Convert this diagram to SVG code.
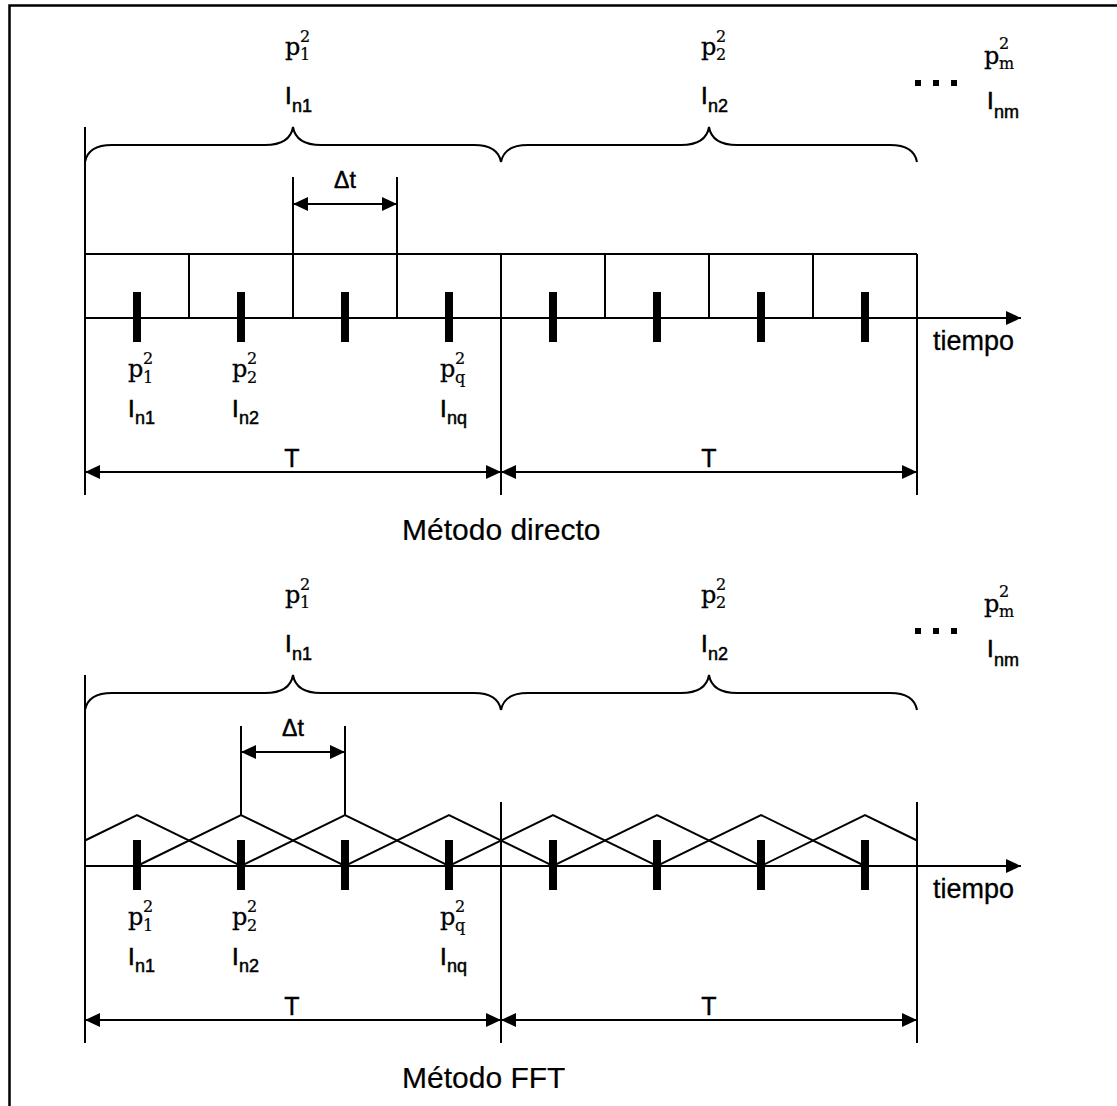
<svg xmlns="http://www.w3.org/2000/svg" width="1117" height="1106" viewBox="0 0 1117 1106">
<defs>
<marker id="ah" markerUnits="userSpaceOnUse" markerWidth="15" markerHeight="14" refX="15" refY="7" orient="auto-start-reverse" viewBox="0 0 15 14"><path d="M0,0 L15,7 L0,14 z" fill="#000"/></marker>
</defs>
<style>
.ln{stroke:#000;stroke-width:2;fill:none}
.ar{stroke:#000;stroke-width:2;fill:none;marker-start:url(#ah);marker-end:url(#ah)}
.ax{stroke:#000;stroke-width:2;fill:none;marker-end:url(#ah)}
.tk{fill:#000}
.ps{font-family:"DejaVu Serif","Liberation Serif",serif;font-size:24px;stroke:#000;stroke-width:0.3}
.ss{font-family:"DejaVu Serif","Liberation Serif",serif;font-size:16px;stroke:#000;stroke-width:0.2}
.iv{font-family:"Liberation Sans",Arial,sans-serif;font-size:24px;stroke:#000;stroke-width:0.6}
.is{font-family:"Liberation Sans",Arial,sans-serif;font-size:18px;stroke:#000;stroke-width:0.5}
.dt{font-family:"Liberation Sans",Arial,sans-serif;font-size:23px;text-anchor:middle;stroke:#000;stroke-width:0.5}
.tt{font-family:"Liberation Sans",Arial,sans-serif;font-size:25px;text-anchor:middle;stroke:#000;stroke-width:0.4}
.tl{font-family:"Liberation Sans",Arial,sans-serif;font-size:27px;stroke:#000;stroke-width:0.3}
.ti{font-family:"Liberation Sans",Arial,sans-serif;font-size:30px;stroke:#000;stroke-width:0.2}
</style>
<rect x="0" y="0" width="1117" height="1106" fill="#fff"/>
<g id="frame"><path class="ln" style="stroke-width:2.5" d="M9.5,1106 L9.5,5.5 L1117,5.5"/></g>

<g id="connectors">
<path class="ln" d="M85,162 C87,151 96,145 112,145 L265,145 C282,145 291,139 293,127 C295,139 304,145 321,145 L474,145 C490,145 499,151 501,162"/>
<path class="ln" d="M501,162 C503,151 512,145 528,145 L681,145 C698,145 707,139 709,127 C711,139 720,145 737,145 L890,145 C906,145 915,151 917,162"/>
<path class="ln" d="M85,127 L85,495 M501,254 L501,495 M917,254 L917,495"/>
<path class="ln" d="M85,254 L917,254 M189,254 L189,318 M605,254 L605,318 M709,254 L709,318 M813,254 L813,318 M293,177 L293,318 M397,177 L397,318"/>
<path class="ax" d="M85,318 L1021,318"/>
<path class="ar" d="M293,204 L397,204"/>
<path class="ar" d="M85,472 L501,472"/>
<path class="ar" d="M501,472 L917,472"/>
<path class="ln" d="M85,710 C87,699 96,693 112,693 L265,693 C282,693 291,687 293,675 C295,687 304,693 321,693 L474,693 C490,693 499,699 501,710"/>
<path class="ln" d="M501,710 C503,699 512,693 528,693 L681,693 C698,693 707,687 709,675 C711,687 720,693 737,693 L890,693 C906,693 915,699 917,710"/>
<path class="ln" d="M85,675 L85,1043 M501,802 L501,1043 M917,802 L917,1043"/>
<path class="ln" d="M241,726 L241,815 M345,726 L345,815"/>
<polyline class="ln" points="85,840.5 137,815 241,866 345,815 449,866 553,815 657,866 761,815 865,866"/>
<polyline class="ln" points="137,866 241,815 345,866 449,815 553,866 657,815 761,866 865,815 917,840.5"/>
<path class="ax" d="M85,866 L1021,866"/>
<path class="ar" d="M241,752 L345,752"/>
<path class="ar" d="M85,1020 L501,1020"/>
<path class="ar" d="M501,1020 L917,1020"/>
</g>

<g id="ticks-directo">
<rect class="tk" x="133" y="292" width="8" height="50"/>
<rect class="tk" x="237" y="292" width="8" height="50"/>
<rect class="tk" x="341" y="292" width="8" height="50"/>
<rect class="tk" x="445" y="292" width="8" height="50"/>
<rect class="tk" x="549" y="292" width="8" height="50"/>
<rect class="tk" x="653" y="292" width="8" height="50"/>
<rect class="tk" x="757" y="292" width="8" height="50"/>
<rect class="tk" x="861" y="292" width="8" height="50"/>
</g>
<g id="ticks-fft">
<rect class="tk" x="133" y="840" width="8" height="50"/>
<rect class="tk" x="237" y="840" width="8" height="50"/>
<rect class="tk" x="341" y="840" width="8" height="50"/>
<rect class="tk" x="445" y="840" width="8" height="50"/>
<rect class="tk" x="549" y="840" width="8" height="50"/>
<rect class="tk" x="653" y="840" width="8" height="50"/>
<rect class="tk" x="757" y="840" width="8" height="50"/>
<rect class="tk" x="861" y="840" width="8" height="50"/>
</g>

<g id="d-top1">
<text class="ps" x="285" y="55">p</text><text class="ss" x="300" y="42">2</text><text class="ss" x="300" y="60">1</text>
<text class="iv" x="285" y="104">I</text><text class="is" x="292" y="112">n1</text>
</g>
<g id="d-top2">
<text class="ps" x="701" y="55">p</text><text class="ss" x="716" y="42">2</text><text class="ss" x="716" y="60">2</text>
<text class="iv" x="701" y="104">I</text><text class="is" x="708" y="112">n2</text>
</g>
<g id="d-topm">
<rect class="tk" x="915" y="80" width="6" height="6"/><rect class="tk" x="933" y="80" width="6" height="6"/><rect class="tk" x="951" y="80" width="6" height="6"/>
<text class="ps" x="984" y="64">p</text><text class="ss" x="999" y="49">2</text><text class="ss" x="999" y="69">m</text>
<text class="iv" x="987" y="109">I</text><text class="is" x="994" y="118">nm</text>
</g>
<g id="d-dt"><text class="dt" x="345" y="188">Δt</text></g>
<g id="d-s1">
<text class="ps" x="128" y="377">p</text><text class="ss" x="143" y="364">2</text><text class="ss" x="143" y="383">1</text>
<text class="iv" x="128" y="417">I</text><text class="is" x="135" y="424">n1</text>
</g>
<g id="d-s2">
<text class="ps" x="232" y="377">p</text><text class="ss" x="247" y="364">2</text><text class="ss" x="247" y="383">2</text>
<text class="iv" x="232" y="417">I</text><text class="is" x="239" y="424">n2</text>
</g>
<g id="d-sq">
<text class="ps" x="440" y="377">p</text><text class="ss" x="455" y="364">2</text><text class="ss" x="455" y="383">q</text>
<text class="iv" x="440" y="417">I</text><text class="is" x="447" y="424">nq</text>
</g>
<g id="d-tiempo"><text class="tl" x="933" y="350">tiempo</text></g>
<g id="d-T1"><text class="tt" x="292" y="467">T</text></g>
<g id="d-T2"><text class="tt" x="709" y="467">T</text></g>
<g id="d-title"><text class="ti" x="402" y="540">Método directo</text></g>

<g id="f-top1">
<text class="ps" x="285" y="603">p</text><text class="ss" x="300" y="590">2</text><text class="ss" x="300" y="608">1</text>
<text class="iv" x="285" y="652">I</text><text class="is" x="292" y="660">n1</text>
</g>
<g id="f-top2">
<text class="ps" x="701" y="603">p</text><text class="ss" x="716" y="590">2</text><text class="ss" x="716" y="608">2</text>
<text class="iv" x="701" y="652">I</text><text class="is" x="708" y="660">n2</text>
</g>
<g id="f-topm">
<rect class="tk" x="915" y="628" width="6" height="6"/><rect class="tk" x="933" y="628" width="6" height="6"/><rect class="tk" x="951" y="628" width="6" height="6"/>
<text class="ps" x="984" y="612">p</text><text class="ss" x="999" y="597">2</text><text class="ss" x="999" y="617">m</text>
<text class="iv" x="987" y="657">I</text><text class="is" x="994" y="666">nm</text>
</g>
<g id="f-dt"><text class="dt" x="293" y="736">Δt</text></g>
<g id="f-s1">
<text class="ps" x="128" y="925">p</text><text class="ss" x="143" y="912">2</text><text class="ss" x="143" y="931">1</text>
<text class="iv" x="128" y="965">I</text><text class="is" x="135" y="972">n1</text>
</g>
<g id="f-s2">
<text class="ps" x="232" y="925">p</text><text class="ss" x="247" y="912">2</text><text class="ss" x="247" y="931">2</text>
<text class="iv" x="232" y="965">I</text><text class="is" x="239" y="972">n2</text>
</g>
<g id="f-sq">
<text class="ps" x="440" y="925">p</text><text class="ss" x="455" y="912">2</text><text class="ss" x="455" y="931">q</text>
<text class="iv" x="440" y="965">I</text><text class="is" x="447" y="972">nq</text>
</g>
<g id="f-tiempo"><text class="tl" x="933" y="898">tiempo</text></g>
<g id="f-T1"><text class="tt" x="292" y="1015">T</text></g>
<g id="f-T2"><text class="tt" x="709" y="1015">T</text></g>
<g id="f-title"><text class="ti" x="402" y="1088">Método FFT</text></g>
</svg>
